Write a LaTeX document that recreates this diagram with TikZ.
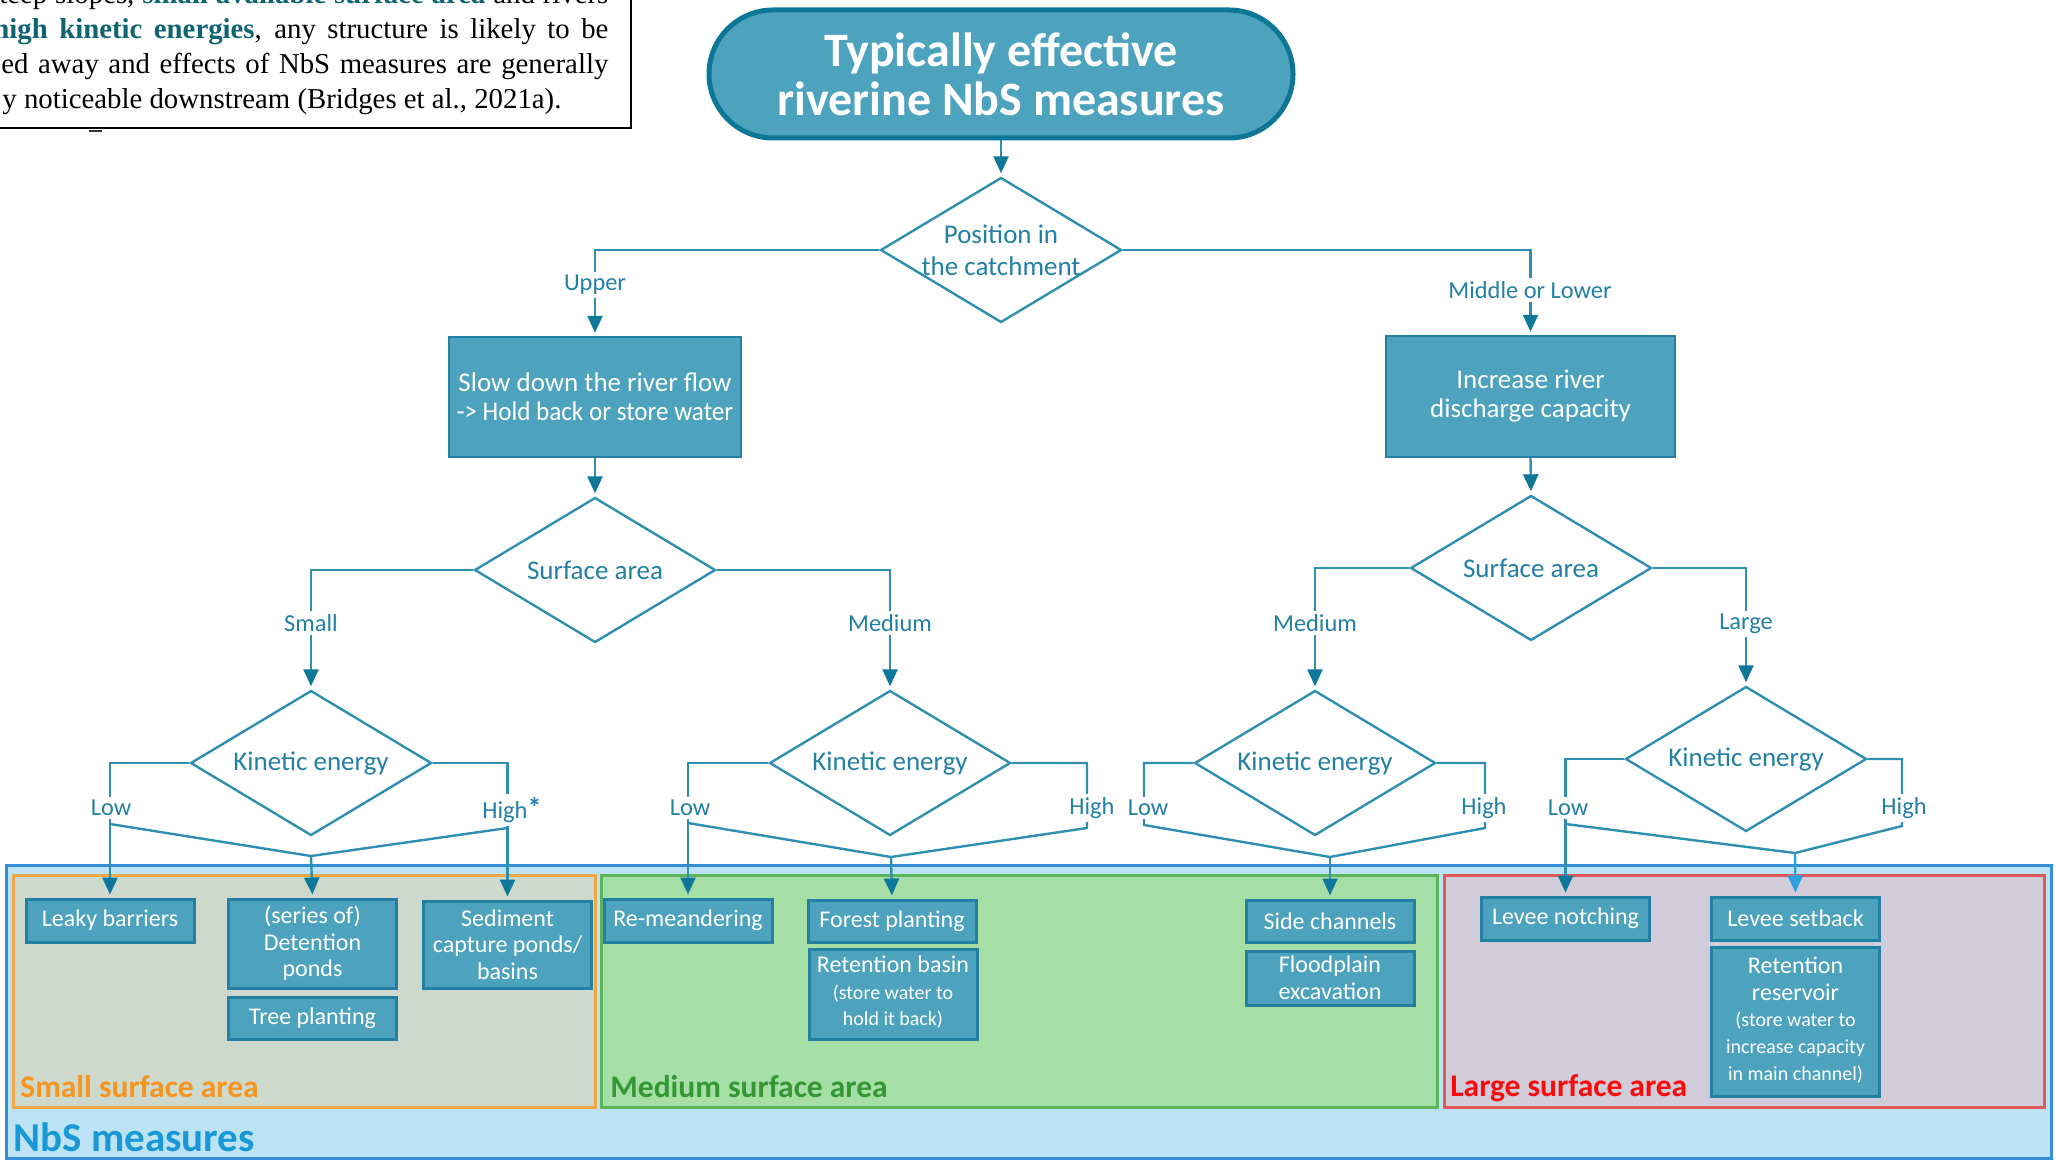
\documentclass[tikz,border=0pt]{standalone}
\usepackage{fontspec}
\usepackage{graphicx}
\setmainfont{Carlito}
\newfontfamily\timesfont{Liberation Serif}
\usetikzlibrary{shapes.geometric,arrows.meta}

\definecolor{lineC}{RGB}{47,143,176}
\definecolor{tipC}{RGB}{14,120,154}
\definecolor{labelC}{RGB}{34,128,165}
\definecolor{boxFill}{RGB}{77,163,190}
\definecolor{boxEdge}{RGB}{36,128,163}
\definecolor{titleEdge}{RGB}{12,118,150}
\definecolor{outerFill}{RGB}{188,227,244}
\definecolor{outerEdge}{RGB}{52,142,212}
\definecolor{smallFill}{RGB}{205,217,204}
\definecolor{smallEdge}{RGB}{238,168,70}
\definecolor{smallText}{RGB}{246,148,30}
\definecolor{medFill}{RGB}{166,223,166}
\definecolor{medEdge}{RGB}{92,180,92}
\definecolor{medText}{RGB}{52,150,52}
\definecolor{largeFill}{RGB}{208,204,217}
\definecolor{largeEdge}{RGB}{226,88,88}
\definecolor{largeText}{RGB}{250,10,10}
\definecolor{nbsText}{RGB}{26,152,214}
\definecolor{lightArrow}{RGB}{44,160,222}
\definecolor{tealT}{RGB}{14,100,115}

\begin{document}
\begin{tikzpicture}[x=0.5pt,y=-0.5pt,
  conn/.style={draw=lineC, line width=1.2pt},
  arr/.style={conn, shorten >=1.5pt, -{Triangle[width=7.5pt,length=8.5pt,color=tipC]}},
  decision/.style={diamond, draw=lineC, line width=1.2pt, fill=white,
    minimum width=120.5pt, minimum height=72.5pt, inner sep=0pt},
  dtext/.style={text=labelC, align=center, inner sep=0pt,
    font=\fontsize{13.5}{16}\selectfont},
  blab/.style={fill=white, text=labelC, inner sep=1.5pt,
    font=\fontsize{12.2}{14}\selectfont},
  title/.style={rectangle, rounded corners=32pt, draw=titleEdge, fill=boxFill,
    line width=2.5pt, minimum width=292pt, minimum height=64pt, text=white,
    align=center, font=\fontsize{24}{24.5}\selectfont\bfseries},
  bigbox/.style={rectangle, draw=boxEdge, fill=boxFill, line width=1.2pt,
    text=white, align=center, inner sep=0pt,
    font=\fontsize{13.5}{14.5}\selectfont},
  mbox/.style={rectangle, draw=boxEdge, fill=boxFill, line width=1.5pt,
    text=white, align=center, inner sep=0pt, minimum width=84pt,
    font=\fontsize{12}{13.3}\selectfont},
  region/.style={line width=1.5pt},
  rlabel/.style={anchor=base west, inner sep=0pt,
    font=\fontsize{15.75}{16}\selectfont\bfseries}
]
\useasboundingbox (0,0) rectangle (2056,1160);

% ---- quoted paragraph in the upper left corner ----
\begin{scope}
  \clip (0,0) rectangle (2056,1160);
  \draw[black, line width=1pt, fill=white] (-40,-40) rectangle (631,128);
  \begin{scope}[every node/.style={anchor=base west, inner sep=0pt,
      font=\timesfont\fontsize{14.4}{16}\selectfont}]
    \node (p1) at (-1,4) {\makebox[304.5pt][s]{teep slopes, \textbf{\color{tealT}small available surface area} and rivers}};
    \node (p2) at (-7,39) {\makebox[307.5pt][s]{\textbf{\color{tealT}high kinetic energies}, any structure is likely to be}};
    \node (p3) at (1,74) {\makebox[303.5pt][s]{ed away and effects of NbS measures are generally}};
    \node (p4) at (2,109) {y noticeable downstream (Bridges et al., 2021a).};
  \end{scope}
  \draw[black!80, line width=1pt] (89,131) -- (102,131);
\end{scope}

% ---- measure regions ----
\draw[region, draw=outerEdge, fill=outerFill] (6,865) rectangle (2051,1158);
\draw[region, draw=smallEdge, fill=smallFill] (13,875) rectangle (595,1107);
\draw[region, draw=medEdge, fill=medFill] (601,875) rectangle (1437,1107);
\draw[region, draw=largeEdge, fill=largeFill] (1444,875) rectangle (2044,1107);
\node[rlabel, text=smallText] (smallL) at (20,1097) {Small surface area};
\node[rlabel, text=medText] (medL) at (610,1097) {Medium surface area};
\node[rlabel, text=largeText] (largeL) at (1450,1096) {Large surface area};
\node[rlabel, text=nbsText, font=\fontsize{20.5}{22}\selectfont\bfseries] (nbsL) at (13,1151) {NbS measures};

% ---- measures ----
\node[mbox, minimum height=21.5pt] (leaky) at (110,920.5) {Leaky barriers};
\node[mbox, minimum height=44.5pt] (detention) at (312.5,943.5) {(series of)\\Detention\\ponds};
\node[mbox, minimum height=21pt] (tree) at (312.5,1018) {Tree planting};
\node[mbox, minimum height=43.5pt] (sediment) at (507.5,944.5) {Sediment\\capture ponds/\\basins};
\node[mbox, minimum height=21.5pt] (remeander) at (688,920.5) {Re-meandering};
\node[mbox, minimum height=21pt] (forest) at (892,921) {Forest planting};
\node[mbox, minimum height=45pt] (retbasin) at (893,994)
  {\begin{tabular}{@{}c@{}}Retention basin\\ \fontsize{10}{12}\selectfont(store water to\\ \fontsize{10}{12}\selectfont hold it back)\end{tabular}};
\node[mbox, minimum height=21pt] (side) at (1330,921) {Side channels};
\node[mbox, minimum height=27pt] (flood) at (1330,978) {Floodplain\\excavation};
\node[mbox, minimum height=21.5pt] (notch) at (1565.5,918.5) {Levee notching};
\node[mbox, minimum height=21.5pt] (setback) at (1795.5,918.5) {Levee setback};
\node[mbox, minimum height=74.5pt] (reservoir) at (1795.5,1021.5)
  {\begin{tabular}{@{}c@{}}Retention\\reservoir\\ \fontsize{10}{12}\selectfont(store water to\\ \fontsize{10}{12}\selectfont increase capacity\\ \fontsize{10}{12}\selectfont in main channel)\end{tabular}};

% ---- decision tree ----
\node[title] (title) at (1001,74) {Typically effective\\riverine NbS measures};
\node[decision] (pos) at (1001,250) {};
\node[dtext] (posT) at (pos) {Position in\\the catchment};
\node[bigbox, minimum width=146pt, minimum height=60pt] (slow) at (595,397)
  {Slow down the river flow\\\scalebox{0.93}[1]{-> Hold back or store water}};
\node[bigbox, minimum width=144.5pt, minimum height=60.5pt] (incr) at (1530.5,396.5)
  {Increase river\\discharge capacity};
\node[decision] (saL) at (595,570) {};
\node[dtext] (saLT) at (saL) {Surface area};
\node[decision] (saR) at (1531,568) {};
\node[dtext] (saRT) at (saR) {Surface area};
\node[decision] (ke1) at (311,763) {};
\node[dtext] (ke1T) at (ke1) {Kinetic energy};
\node[decision] (ke2) at (890,763) {};
\node[dtext] (ke2T) at (ke2) {Kinetic energy};
\node[decision] (ke3) at (1315,763) {};
\node[dtext] (ke3T) at (ke3) {Kinetic energy};
\node[decision] (ke4) at (1746,759) {};
\node[dtext] (ke4T) at (ke4) {Kinetic energy};

\draw[arr] (title) -- (pos);
\draw[arr] (pos.west) -| (slow.north);
\draw[arr] (pos.east) -| (incr.north);
\draw[arr] (slow) -- (saL);
\draw[arr] (incr.south) -- (saR.north);
\draw[arr] (saL.west) -| (ke1.north);
\draw[arr] (saL.east) -| (ke2.north);
\draw[arr] (saR.west) -| (ke3.north);
\draw[arr] (saR.east) -| (ke4.north);

% kinetic energy branches, small surface area
\coordinate (m1) at (311,856);
\draw[arr] (ke1.west) -| (leaky.north);
\draw[arr] (ke1.east) -| (sediment.north);
\draw[conn] (leaky.north |- 0,824) -- (m1) -- (sediment.north |- 0,828);
\draw[arr] (m1) -- (detention.north);

% medium surface area (upper course)
\coordinate (m2) at (891,857);
\coordinate (h2) at (1087,828);
\draw[arr] (ke2.west) -| (remeander.north);
\draw[conn] (ke2.east) -| (h2) -- (m2) -- (remeander.north |- 0,823);
\draw[arr] (m2) -- (forest.north);

% medium surface area (middle or lower course)
\coordinate (m3) at (1330,857);
\coordinate (l3) at (1144,825);
\coordinate (h3) at (1485,828);
\draw[conn] (ke3.west) -| (l3) -- (m3) -- (h3) |- (ke3.east);
\draw[arr] (m3) -- (side.north);

% large surface area
\coordinate (m4) at (1795,853);
\coordinate (h4) at (1902,826);
\draw[arr] (ke4.west) -| (notch.north);
\draw[conn] (notch.north |- 0,824) -- (m4) -- (h4) |- (ke4.east);
\draw[arr, draw=lightArrow, -{Triangle[width=7.5pt,length=8.5pt,color=lightArrow]}] (m4) -- (setback.north);

% branch labels
\node[blab] (lUpper) at (595,285) {Upper};
\node[blab] (lMid) at (1530,290) {Middle or Lower};
\node[blab] (lSmall) at (311,623) {Small};
\node[blab] (lMedA) at (890,623) {Medium};
\node[blab] (lMedB) at (1315,623) {Medium};
\node[blab] (lLarge) at (1746,624) {Large};
\node[blab] (low1) at (111,808) {Low};
\node[blab] (high1) at (505,810) {High\rlap{\raisebox{0.5pt}{\fontsize{14}{14}\selectfont\bfseries*}}};
\node[blab] (low2) at (690,808) {Low};
\node[blab] (high2) at (1092,808) {High};
\node[blab] (low3) at (1148,808) {Low};
\node[blab] (high3) at (1484,808) {High};
\node[blab] (low4) at (1568,808) {Low};
\node[blab] (high4) at (1904,808) {High};
\end{tikzpicture}
\end{document}
